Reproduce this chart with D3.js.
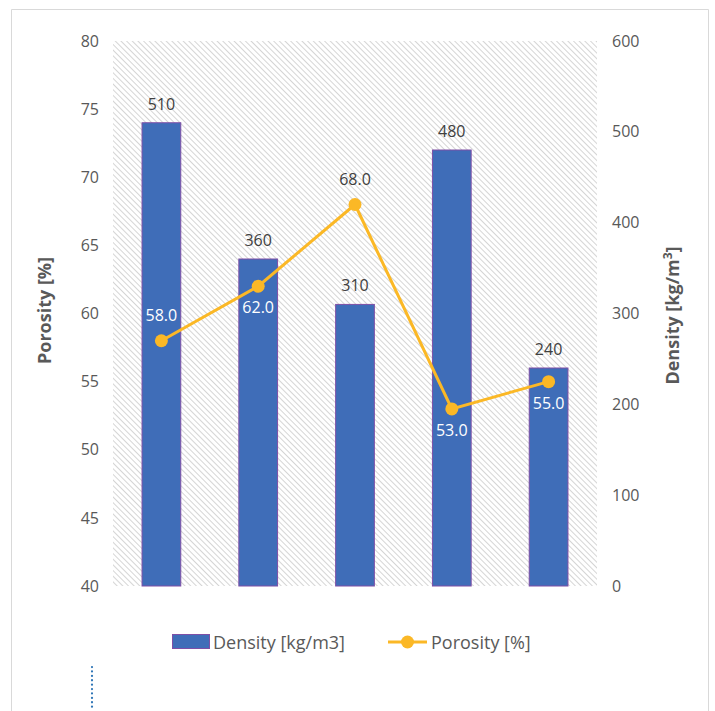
<!DOCTYPE html>
<html lang="en">
<head>
<meta charset="UTF-8">
<title>Density and Porosity</title>
<style>
  body { margin: 0; background: #fff; }
  svg text { font-family: "Open Sans", "Noto Sans", sans-serif; }
</style>
</head>
<body>
<script src="https://cdnjs.cloudflare.com/ajax/libs/d3/7.8.5/d3.min.js"></script>
<script>
// data
var categories = ['A', 'B', 'C', 'D', 'E'];
var density = [510, 360, 310, 480, 240];      // kg/m3, bars, right axis
var porosity = [58.0, 62.0, 68.0, 53.0, 55.0]; // %, line, left axis
var leftTicks = [40, 45, 50, 55, 60, 65, 70, 75, 80];
var rightTicks = [0, 100, 200, 300, 400, 500, 600];
var porosityLabelSide = ['above', 'below', 'above', 'below', 'below'];

var W = 715, H = 711;
var plot = { left: 113, right: 597, top: 41, bottom: 586 };

var barColor = '#3F6DB8', barEdge = '#7E4FA6';
var lineColor = '#FBB826';
var textColor = '#595959';

var svg = d3.select('body').append('svg')
  .attr('width', W)
  .attr('height', H);

// frame around the chart
svg.append('path')
  .attr('d', 'M11.5,' + H + 'V9.5H708.5V' + H)
  .attr('fill', 'none')
  .attr('stroke', '#d9d9d9');

// hatch fill for plot area (lines run top-left to bottom-right)
var defs = svg.append('defs');
var pat = defs.append('pattern')
  .attr('id', 'hatch')
  .attr('patternUnits', 'userSpaceOnUse')
  .attr('width', 4)
  .attr('height', 4)
  .attr('patternTransform', 'rotate(-45)');
pat.append('rect').attr('width', 4).attr('height', 4).attr('fill', '#fff');
pat.append('line')
  .attr('x1', 0).attr('y1', 0).attr('x2', 0).attr('y2', 4)
  .attr('stroke', '#c4c4c4')
  .attr('stroke-width', 1.4);

svg.append('rect')
  .attr('x', plot.left)
  .attr('y', plot.top)
  .attr('width', plot.right - plot.left)
  .attr('height', plot.bottom - plot.top)
  .attr('fill', 'url(#hatch)');

var x = d3.scaleBand().domain(categories).range([plot.left, plot.right]).paddingInner(0.6).paddingOuter(0.3);
var yL = d3.scaleLinear().domain([40, 80]).range([plot.bottom, plot.top]);
var yR = d3.scaleLinear().domain([0, 600]).range([plot.bottom, plot.top]);

// left axis
var axL = svg.append('g')
  .attr('transform', 'translate(' + (plot.left - 14) + ',0)')
  .call(d3.axisLeft(yL).tickValues(leftTicks).tickSize(0).tickPadding(0));
axL.select('.domain').remove();
axL.selectAll('text')
  .attr('fill', textColor)
  .style('font-size', '16px');

// right axis
var axR = svg.append('g')
  .attr('transform', 'translate(' + (plot.right + 15) + ',0)')
  .call(d3.axisRight(yR).tickValues(rightTicks).tickSize(0).tickPadding(0));
axR.select('.domain').remove();
axR.selectAll('text')
  .attr('fill', textColor)
  .style('font-size', '16px');

// axis titles
svg.append('text')
  .attr('transform', 'translate(51,' + ((plot.top + plot.bottom) / 2 - 3) + ') rotate(-90)')
  .attr('text-anchor', 'middle')
  .attr('fill', textColor)
  .style('font-size', '18px')
  .style('font-weight', 'bold')
  .text('Porosity [%]');

var rt = svg.append('text')
  .attr('transform', 'translate(679,' + ((plot.top + plot.bottom) / 2 + 2) + ') rotate(-90)')
  .attr('text-anchor', 'middle')
  .attr('fill', textColor)
  .style('font-size', '18px')
  .style('font-weight', 'bold');
rt.append('tspan').text('Density [kg/m');
rt.append('tspan').attr('dy', -7).style('font-size', '12px').text('3');
rt.append('tspan').attr('dy', 7).text(']');

// bars
var bars = categories.map(function (c, i) { return { cat: c, v: density[i] }; });
svg.selectAll('.bar')
  .data(bars)
  .enter()
  .append('rect')
  .attr('class', 'bar')
  .attr('x', function (d) { return x(d.cat); })
  .attr('y', function (d) { return yR(d.v); })
  .attr('width', x.bandwidth())
  .attr('height', function (d) { return yR(0) - yR(d.v); })
  .attr('fill', barColor)
  .attr('stroke', barEdge)
  .attr('stroke-width', 1);

svg.selectAll('.bar-label')
  .data(bars)
  .enter()
  .append('text')
  .attr('class', 'bar-label')
  .attr('x', function (d) { return x(d.cat) + x.bandwidth() / 2; })
  .attr('y', function (d) { return yR(d.v) - 13; })
  .attr('text-anchor', 'middle')
  .attr('fill', '#404040')
  .style('font-size', '16px')
  .text(function (d) { return d.v; });

// porosity line
var pts = categories.map(function (c, i) {
  return { cat: c, v: porosity[i], bar: density[i], side: porosityLabelSide[i] };
});
var cx = function (d) { return x(d.cat) + x.bandwidth() / 2; };

svg.append('path')
  .datum(pts)
  .attr('fill', 'none')
  .attr('stroke', lineColor)
  .attr('stroke-width', 3)
  .attr('d', d3.line().x(cx).y(function (d) { return yL(d.v); }));

svg.selectAll('.dot')
  .data(pts)
  .enter()
  .append('circle')
  .attr('class', 'dot')
  .attr('cx', cx)
  .attr('cy', function (d) { return yL(d.v); })
  .attr('r', 6.5)
  .attr('fill', lineColor);

svg.selectAll('.pt-label')
  .data(pts)
  .enter()
  .append('text')
  .attr('class', 'pt-label')
  .attr('x', cx)
  .attr('y', function (d) {
    return d.side === 'above' ? yL(d.v) - 20 : yL(d.v) + 27;
  })
  .attr('text-anchor', 'middle')
  .attr('fill', function (d) {
    var ly = d.side === 'above' ? yL(d.v) - 32 : yL(d.v) + 15;
    return ly > yR(d.bar) ? '#ffffff' : '#404040';
  })
  .style('font-size', '16px')
  .text(function (d) { return d3.format('.1f')(d.v); });

// legend
var lg = svg.append('g').attr('transform', 'translate(0,642)');
lg.append('rect')
  .attr('x', 172.5).attr('y', -7.5)
  .attr('width', 37).attr('height', 14)
  .attr('fill', barColor)
  .attr('stroke', barEdge);
lg.append('text')
  .attr('x', 213).attr('y', 6.5)
  .attr('fill', textColor)
  .style('font-size', '18px')
  .text('Density [kg/m3]');
lg.append('line')
  .attr('x1', 388).attr('x2', 427)
  .attr('stroke', lineColor)
  .attr('stroke-width', 3);
lg.append('circle')
  .attr('cx', 407.5).attr('r', 6.5)
  .attr('fill', lineColor);
lg.append('text')
  .attr('x', 431).attr('y', 6.5)
  .attr('fill', textColor)
  .style('font-size', '18px')
  .text('Porosity [%]');

// dotted marker at bottom left
svg.append('line')
  .attr('x1', 92).attr('x2', 92)
  .attr('y1', 667).attr('y2', H)
  .attr('stroke', '#2E75B6')
  .attr('stroke-width', 2.2)
  .attr('stroke-linecap', 'round')
  .attr('stroke-dasharray', '0.1 4.3');
</script>
</body>
</html>
